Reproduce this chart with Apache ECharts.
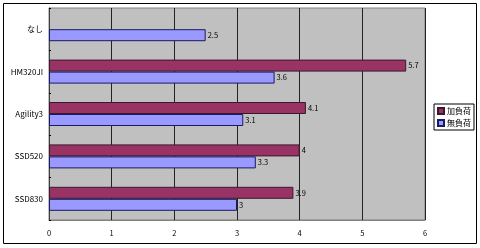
<!DOCTYPE html>
<html><head><meta charset="utf-8">
<script src="https://cdn.jsdelivr.net/npm/echarts@6/dist/echarts.min.js"></script>
<style>html,body{margin:0;padding:0;background:#fff}#c{width:480px;height:248px}</style>
</head><body><div id="c"></div>
<script>
const categories = ['なし', 'HM320JI', 'Agility3', 'SSD520', 'SSD830'];
const loaded = [null, 5.7, 4.1, 4, 3.9];      // 加負荷
const unloaded = [2.5, 3.6, 3.1, 3.3, 3];      // 無負荷
const seriesNames = ['加負荷', '無負荷'];
const xTicks = [0, 1, 2, 3, 4, 5, 6];

const chart = echarts.init(document.getElementById('c'), null, {renderer: 'canvas'});
const font = '"Noto Sans CJK JP", "DejaVu Sans", sans-serif';
const lbl = {show: true, position: 'right', distance: 2, fontSize: 7.5, color: '#000', fontFamily: font};
chart.setOption({
  animation: false,
  textStyle: {fontFamily: font},
  graphic: [{type: 'rect', shape: {x: 3.5, y: 3.5, width: 473, height: 240}, style: {fill: 'none', stroke: '#000', lineWidth: 1}, z: -10}],
  grid: {left: 49, right: 55, top: 8, bottom: 28, show: true, backgroundColor: '#C0C0C0', borderColor: '#808080', borderWidth: 1},
  legend: {
    orient: 'vertical', left: 434, top: 104, data: seriesNames,
    itemWidth: 6, itemHeight: 6, itemGap: 4, padding: [3, 3, 3, 3],
    borderColor: '#000', borderWidth: 1, icon: 'rect',
    textStyle: {fontSize: 8, color: '#000', fontFamily: font, padding: [0, 0, 0, -2]}
  },
  xAxis: {
    type: 'value', min: xTicks[0], max: xTicks[xTicks.length - 1], interval: 1,
    axisLine: {show: true, lineStyle: {color: '#808080'}},
    axisTick: {show: false},
    axisLabel: {fontSize: 7.5, color: '#000', margin: 9, formatter: v => xTicks.includes(v) ? String(v) : ''},
    splitLine: {show: true, lineStyle: {color: '#222', width: 1}}
  },
  yAxis: {
    type: 'category', data: categories, inverse: true,
    axisLine: {show: true, lineStyle: {color: '#404040'}},
    axisTick: {show: true, inside: true, length: 2, lineStyle: {color: '#000'}},
    axisLabel: {fontSize: 8, color: '#000', margin: 6}
  },
  series: [
    {name: seriesNames[0], type: 'bar', data: loaded, barWidth: 12, barGap: '0%',
     itemStyle: {color: '#993366', borderColor: '#3a1a2a', borderWidth: 1}, label: lbl},
    {name: seriesNames[1], type: 'bar', data: unloaded, barWidth: 12, barGap: '0%',
     itemStyle: {color: '#9999FF', borderColor: '#1a1a60', borderWidth: 1}, label: lbl}
  ]
});
</script></body></html>
